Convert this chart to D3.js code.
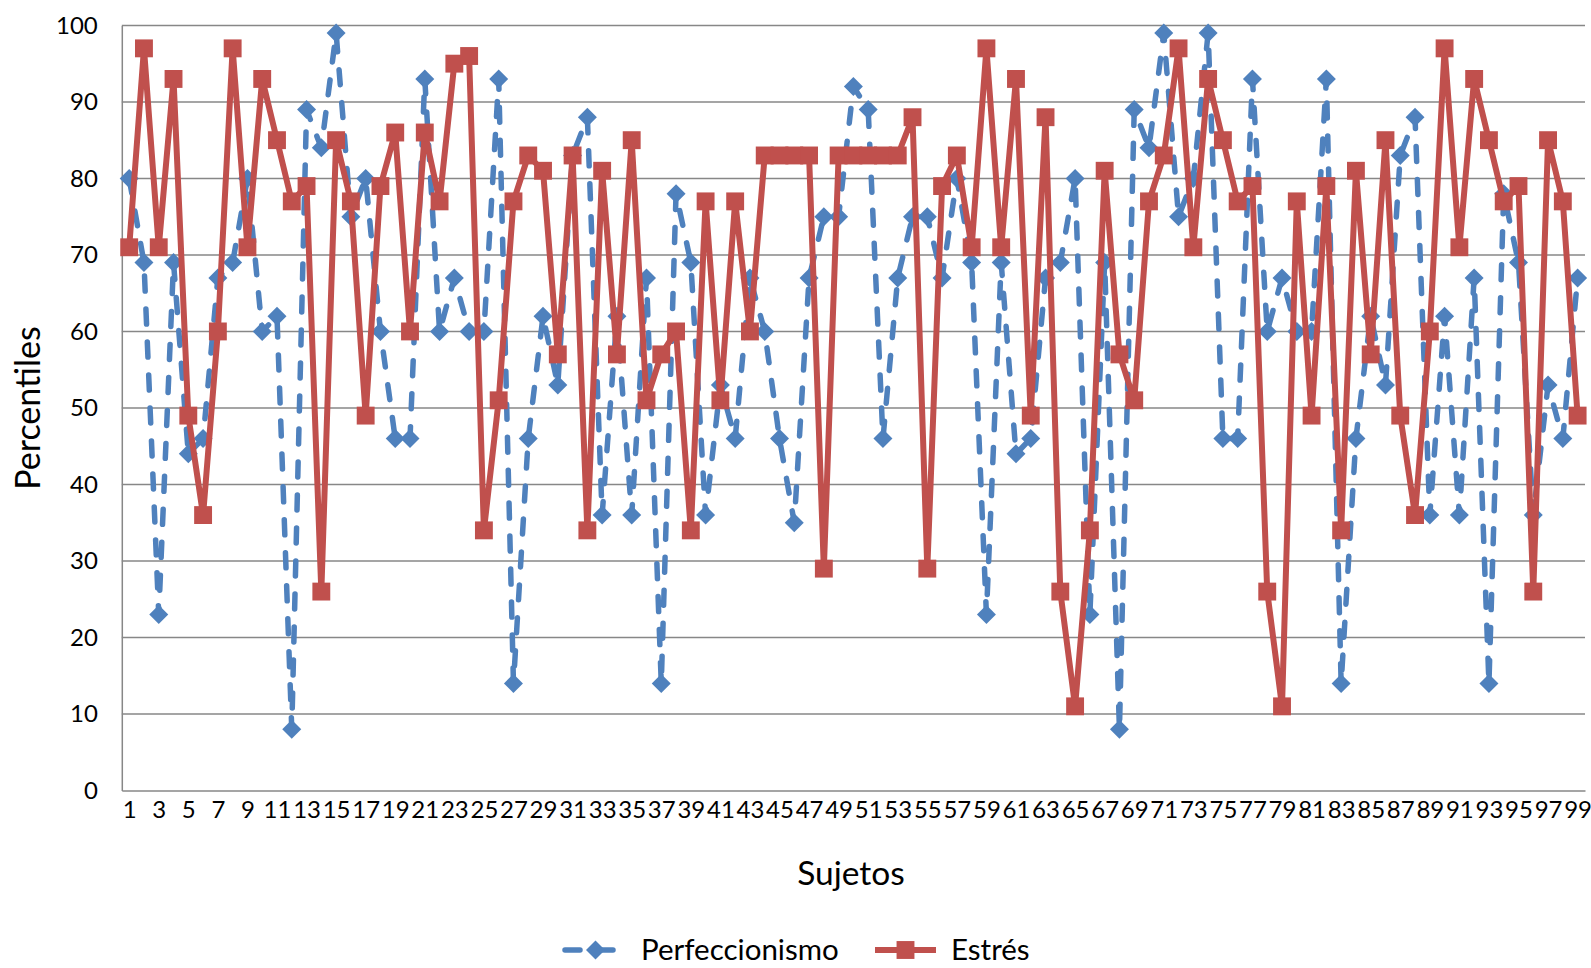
<!DOCTYPE html>
<html>
<head>
<meta charset="utf-8">
<script src="https://cdn.jsdelivr.net/npm/d3@7/dist/d3.min.js"></script>
<style>
  html, body { margin: 0; padding: 0; background: #ffffff; }
  svg { display: block; }
  text { font-family: Lato, "Open Sans", sans-serif; fill: #000; }
</style>
</head>
<body>
<svg id="chart" width="1591" height="968"></svg>
<script>
// Subject numbers 1..99
const sujetos = [
  1,2,3,4,5,6,7,8,9,10,11,12,13,14,15,16,17,18,19,20,
  21,22,23,24,25,26,27,28,29,30,31,32,33,34,35,36,37,38,39,40,
  41,42,43,44,45,46,47,48,49,50,51,52,53,54,55,56,57,58,59,60,
  61,62,63,64,65,66,67,68,69,70,71,72,73,74,75,76,77,78,79,80,
  81,82,83,84,85,86,87,88,89,90,91,92,93,94,95,96,97,98,99
];

// Percentile per subject: perfectionism
const perfeccionismo = [
  80,69,23,69,44,46,67,69,80,60,62,8,89,84,99,75,80,60,46,46,
  93,60,67,60,60,93,14,46,62,53,83,88,36,62,36,67,14,78,69,36,
  53,46,67,60,46,35,67,75,75,92,89,46,67,75,75,67,80,69,23,69,
  44,46,67,69,80,23,69,8,89,84,99,75,80,99,46,46,93,60,67,60,
  60,93,14,46,62,53,83,88,36,62,36,67,14,78,69,36,53,46,67
];

// Percentile per subject: stress
const estres = [
  71,97,71,93,49,36,60,97,71,93,85,77,79,26,85,77,49,79,86,60,
  86,77,95,96,34,51,77,83,81,57,83,34,81,57,85,51,57,60,34,77,
  51,77,60,83,83,83,83,29,83,83,83,83,83,88,29,79,83,71,97,71,
  93,49,88,26,11,34,81,57,51,77,83,97,71,93,85,77,79,26,11,77,
  49,79,34,81,57,85,49,36,60,97,71,93,85,77,79,26,85,77,49
];

const yTicks = [0,10,20,30,40,50,60,70,80,90,100];
const xTickLabels = sujetos.filter(d => d % 2 === 1);

const seriesNames = ["Perfeccionismo", "Estrés"];
const colors = ["#4F81BD", "#C0504D"];

const svg = d3.select("#chart");
const plot = { left: 121.8, right: 1585, top: 25.4, bottom: 790.5 };

const x = d3.scalePoint()
  .domain(sujetos)
  .range([plot.left, plot.right])
  .padding(0.5);

const y = d3.scaleLinear()
  .domain([0, 100])
  .range([plot.bottom, plot.top]);

const gridColor = "#878787";

// Horizontal gridlines
svg.append("g")
  .selectAll("line")
  .data(yTicks.filter(d => d > 0))
  .join("line")
  .attr("x1", plot.left).attr("x2", plot.right)
  .attr("y1", d => y(d)).attr("y2", d => y(d))
  .attr("stroke", gridColor).attr("stroke-width", 1.5);

// Y axis
const yAxis = svg.append("g")
  .attr("transform", `translate(${plot.left},0)`)
  .call(d3.axisLeft(y).tickValues(yTicks).tickSize(0).tickPadding(24));
yAxis.select(".domain").attr("stroke", gridColor).attr("stroke-width", 1.5);
yAxis.selectAll("text").style("font-size", "24px").attr("fill", "#000");

// X axis
const xAxis = svg.append("g")
  .attr("transform", `translate(0,${plot.bottom})`)
  .call(d3.axisBottom(x).tickValues(xTickLabels).tickSize(0).tickPadding(10));
xAxis.select(".domain").attr("stroke", gridColor).attr("stroke-width", 1.5);
xAxis.selectAll("text").style("font-size", "24px").attr("fill", "#000");

// Axis titles
svg.append("text")
  .attr("transform", "translate(40,408) rotate(-90)")
  .attr("text-anchor", "middle")
  .style("font-size", "34px")
  .text("Percentiles");

svg.append("text")
  .attr("x", 851).attr("y", 885)
  .attr("text-anchor", "middle")
  .style("font-size", "33.5px")
  .text("Sujetos");

const diamond = d3.symbol().type(d3.symbolDiamond2).size(230);
const square = d3.symbol().type(d3.symbolSquare).size(320);

const line = d3.line().x((d, i) => x(sujetos[i])).y(d => y(d));

// Perfectionism series: dashed line with diamonds
svg.append("path")
  .datum(perfeccionismo)
  .attr("d", line)
  .attr("fill", "none")
  .attr("stroke", colors[0])
  .attr("stroke-width", 5.5)
  .attr("stroke-linecap", "round")
  .attr("stroke-linejoin", "round")
  .attr("stroke-dasharray", "15 18");

svg.append("g")
  .selectAll("path")
  .data(perfeccionismo)
  .join("path")
  .attr("transform", (d, i) => `translate(${x(sujetos[i])},${y(d)})`)
  .attr("d", diamond)
  .attr("fill", colors[0]);

// Stress series: solid line with squares
svg.append("path")
  .datum(estres)
  .attr("d", line)
  .attr("fill", "none")
  .attr("stroke", colors[1])
  .attr("stroke-width", 6)
  .attr("stroke-linejoin", "round");

svg.append("g")
  .selectAll("path")
  .data(estres)
  .join("path")
  .attr("transform", (d, i) => `translate(${x(sujetos[i])},${y(d)})`)
  .attr("d", square)
  .attr("fill", colors[1]);

// Legend
const legendY = 950;
const legendItems = [
  { name: seriesNames[0], color: colors[0], x0: 565, symbol: diamond, dashed: true },
  { name: seriesNames[1], color: colors[1], x0: 875, symbol: square, dashed: false }
];
const lg = svg.append("g");
legendItems.forEach(it => {
  lg.append("line")
    .attr("x1", it.x0).attr("x2", it.x0 + 61)
    .attr("y1", legendY).attr("y2", legendY)
    .attr("stroke", it.color)
    .attr("stroke-width", it.dashed ? 5.5 : 6)
    .attr("stroke-linecap", it.dashed ? "round" : "butt")
    .attr("stroke-dasharray", it.dashed ? "15 18" : null);
  lg.append("path")
    .attr("transform", `translate(${it.x0 + 30.5},${legendY})`)
    .attr("d", it.symbol)
    .attr("fill", it.color);
  lg.append("text")
    .attr("x", it.x0 + 76).attr("y", legendY)
    .attr("dy", "0.35em")
    .style("font-size", "29.5px")
    .text(it.name);
});
</script>
</body>
</html>
